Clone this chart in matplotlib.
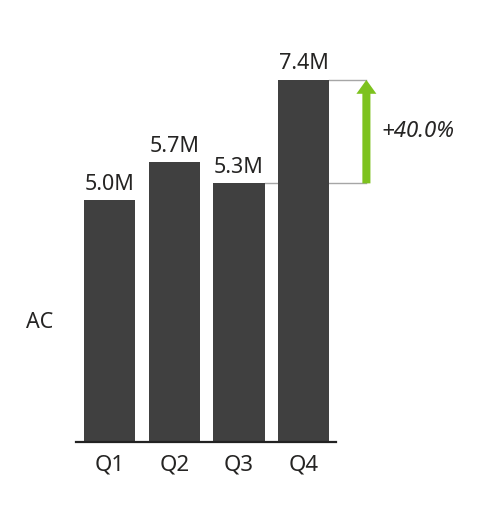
import matplotlib
matplotlib.use("Agg")
import matplotlib.pyplot as plt

categories = ["Q1", "Q2", "Q3", "Q4"]
values = [4.96, 5.73, 5.30, 7.42]  # millions
series_label = "AC"

plt.rcParams['font.family'] = ['Noto Sans', 'DejaVu Sans']

W, H = 480, 530
fig = plt.figure(figsize=(W / 100, H / 100), dpi=100)

# axes placement in pixels
ax_left, ax_right = 76, 336
ax_base, ax_top = 442, 40
ax = fig.add_axes([ax_left / W, (H - ax_base) / H, (ax_right - ax_left) / W, (ax_base - ax_top) / H])

pxm = 48.8  # pixels per million
ax.set_ylim(0, (ax_base - ax_top) / pxm)
ax.set_xlim(-0.52, 3.5)

bar_color = "#404040"
text_color = "#252423"
x = list(range(len(categories)))
ax.bar(x, values, width=0.79, color=bar_color, zorder=2)

for xi, v in zip(x, values):
    ax.annotate(f"{v:.1f}M", xy=(xi, v), xytext=(0, 7.5), textcoords="offset points",
                ha="center", va="baseline", fontsize=15.5, color=text_color)

for s in ["top", "right", "left"]:
    ax.spines[s].set_visible(False)
ax.spines["bottom"].set_linewidth(1.6)
ax.spines["bottom"].set_color("#222222")
ax.set_yticks([])
ax.set_xticks(x)
ax.set_xticklabels(categories, fontsize=16, color=text_color)
ax.tick_params(axis="x", length=0, pad=9)

# variance arrow Q3 -> Q4
v3, v4 = values[2], values[3]
ax_x = 3.97
ax.plot([2 + 0.395, ax_x], [v3, v3], color="#a6a6a6", lw=1, zorder=1, clip_on=False)
ax.plot([3 + 0.395, ax_x], [v4, v4], color="#a6a6a6", lw=1, zorder=1, clip_on=False)
ax.annotate("", xy=(ax_x, v4), xytext=(ax_x, v3),
            arrowprops=dict(arrowstyle="simple,head_width=14.4,head_length=10,tail_width=5.8",
                            mutation_scale=1, color="#7dc21e", shrinkA=0, shrinkB=0, lw=0),
            annotation_clip=False)
pct = (v4 / v3 - 1) * 100
ax.annotate(f"+{pct:.1f}%", xy=(ax_x, (v3 + v4) / 2), xytext=(11, 0), textcoords="offset points",
            ha="left", va="center", fontsize=16, style="italic", color=text_color,
            annotation_clip=False)

fig.text(26 / W, 1 - 323 / H, series_label, ha="left", va="center", fontsize=15.5, color=text_color)

fig.savefig("out.png", dpi=100)
